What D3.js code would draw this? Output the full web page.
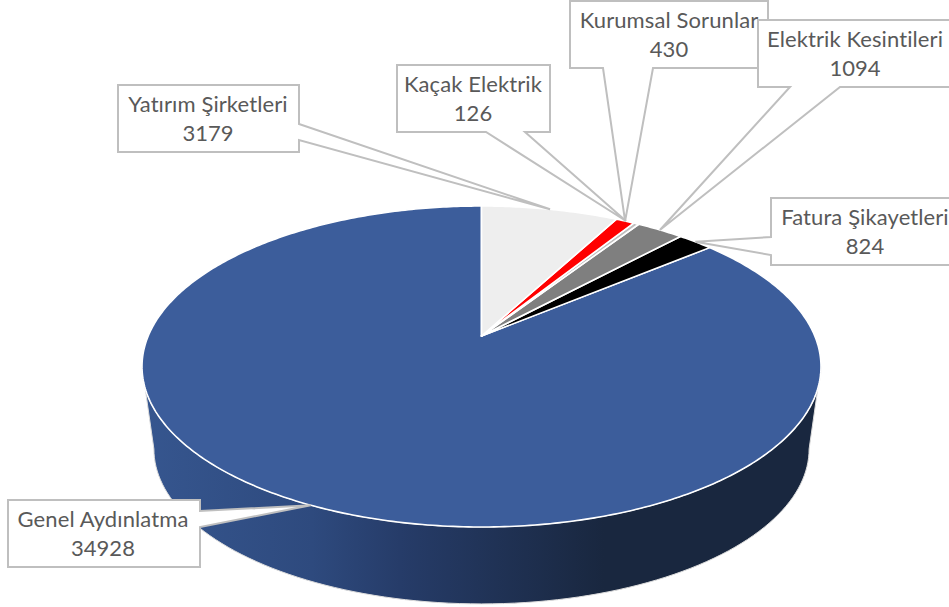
<!DOCTYPE html>
<html><head><meta charset="utf-8">
<script src="https://cdn.jsdelivr.net/npm/d3@7"></script>
<style>html,body{margin:0;padding:0;background:#fff;overflow:hidden}svg{display:block}</style>
</head><body><svg id="c" width="949" height="607"></svg>
<script>
// Data
const categories = ["Yatırım Şirketleri","Kurumsal Sorunlar","Kaçak Elektrik","Elektrik Kesintileri","Fatura Şikayetleri","Genel Aydınlatma"];
const values = [3179,430,126,1094,824,34928];
const colors = ["#eeeeee","#ff0000","#bfbfbf","#7f7f7f","#000000","#3c5d9b"];

// Label box layout: x, y, w, h, text centre, callout base (two points)
const labelLayout = [
  {x:118,y:85,w:181,h:67,cx:208,base:[[299,124],[299,140]],side:"right"},
  {x:570,y:1,w:198,h:67,cx:669,base:[[653,68],[603,68]],side:"bottom"},
  {x:397,y:65,w:153,h:67,cx:473,base:[[525,132],[486,132]],side:"bottom",tip:[626,221]},
  {x:758,y:20,w:200,h:67,cx:855,base:[[840,87],[790,87]],side:"bottom"},
  {x:771,y:198,w:190,h:67,cx:865,base:[[771,237],[771,255]],side:"left"},
  {x:8,y:500,w:192,h:67,cx:103,base:[[200,511],[200,527]],side:"right"}
];

// Perspective disc projection
const cx=481.5, cy=336, bx=333.3, by=154.7, k=0.19;
const bottomScale=0.965, bottomCy=419.6;
function project(a){ // a: clockwise from top, r=1
  const x=Math.sin(a), y=-Math.cos(a), d=1-k*y;
  return [cx+bx*x/d, cy+by*y/d];
}
function projectBottom(a){
  const p=project(a);
  return [cx+(p[0]-cx)*bottomScale, bottomCy+(p[1]-cy)*bottomScale];
}
const svg=d3.select("#c");
const defs=svg.append("defs");
const grad=defs.append("linearGradient").attr("id","side").attr("gradientUnits","userSpaceOnUse")
  .attr("x1",142).attr("x2",821).attr("y1",0).attr("y2",0);
[[0,"#36568f"],[0.25,"#2e4a7e"],[0.38,"#263c69"],[0.68,"#19273f"],[1,"#19273f"]].forEach(s=>
  grad.append("stop").attr("offset",s[0]).attr("stop-color",s[1]));

const line=d3.line();
const pie=d3.pie().sort(null).value(d=>d).startAngle(0).endAngle(2*Math.PI);
const arcs=pie(values);

// Side wall: front half between the tangent angles
const aStart=Math.PI/2+Math.asin(k), aEnd=3*Math.PI/2-Math.asin(k);
const front=d3.range(0,101).map(i=>aStart+(aEnd-aStart)*i/100);
const sidePts=front.map(project).concat(front.slice().reverse().map(projectBottom));
svg.append("path").attr("d",line(sidePts)+"Z").attr("fill","url(#side)")
  .attr("stroke","#dcdcdc").attr("stroke-width",1);

// Top slices
const slices=arcs.map((a,i)=>({a,i})).reverse();
svg.selectAll("path.slice").data(slices).join("path").attr("class","slice")
  .attr("d",d=>{
    const n=Math.max(4,Math.ceil((d.a.endAngle-d.a.startAngle)*80));
    const rim=d3.range(0,n+1).map(j=>project(d.a.startAngle+(d.a.endAngle-d.a.startAngle)*j/n));
    return line([[cx,cy],...rim])+"Z";
  })
  .attr("fill",d=>colors[d.i]).attr("stroke","#ffffff").attr("stroke-width",1.6).attr("stroke-linejoin","round");

// Labels with callouts
const lab=svg.selectAll("g.label").data(arcs.map((a,i)=>({a,i}))).join("g").attr("class","label");
lab.append("path").attr("d",d=>{
  const L=labelLayout[d.i], mid=(d.a.startAngle+d.a.endAngle)/2;
  const tip=L.tip||project(mid);
  const x0=L.x,x1=L.x+L.w,y0=L.y,y1=L.y+L.h;
  let pts;
  if(L.side==="bottom") pts=[[x0,y0],[x1,y0],[x1,y1],L.base[0],tip,L.base[1],[x0,y1]];
  if(L.side==="right") pts=[[x0,y0],[x1,y0],L.base[0],tip,L.base[1],[x1,y1],[x0,y1]];
  if(L.side==="left") pts=[[x0,y0],[x1,y0],[x1,y1],[x0,y1],L.base[1],tip,L.base[0]];
  return line(pts)+"Z";
}).attr("fill","#ffffff").attr("stroke","#bfbfbf").attr("stroke-width",2);
const font="Lato, 'Open Sans', sans-serif";
lab.append("text").attr("x",d=>labelLayout[d.i].cx).attr("y",d=>labelLayout[d.i].y+27)
  .attr("text-anchor","middle").attr("font-family",font).attr("font-size",22).attr("letter-spacing",0.1).attr("fill","#595959")
  .text(d=>categories[d.i]);
lab.append("text").attr("x",d=>labelLayout[d.i].cx).attr("y",d=>labelLayout[d.i].y+56)
  .attr("text-anchor","middle").attr("font-family",font).attr("font-size",22).attr("fill","#595959")
  .text(d=>values[d.i]);
</script></body></html>
